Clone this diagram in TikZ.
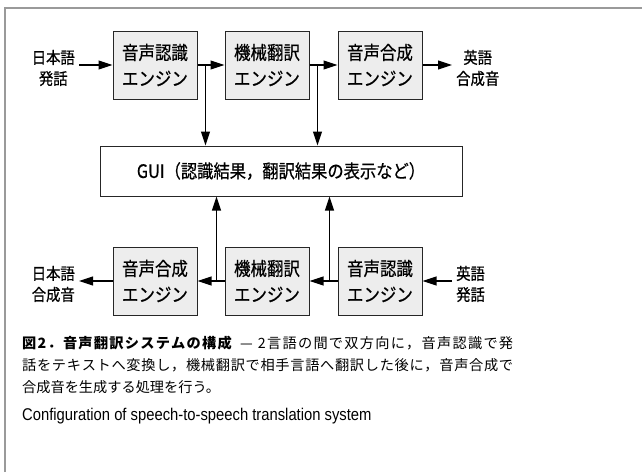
\documentclass[tikz,border=0pt]{standalone}
\usepackage{fontspec}
\setmainfont{Noto Sans CJK JP}[FakeStretch=0.88]
\newfontfamily\lblfont{Noto Sans CJK JP}[FakeStretch=0.88,FakeBold=0.6]
\newfontfamily\capfont{Noto Sans CJK JP}
\newfontfamily\enfont{Liberation Sans}[FakeStretch=0.87]
\makeatletter
\def\spreadtxt#1{\spreadtxt@#1\spreadtxt@end\unskip}
\def\spreadtxt@#1{\ifx#1\spreadtxt@end\else#1\hskip0pt plus 1fil\relax\expandafter\spreadtxt@\fi}
\makeatother
\usetikzlibrary{arrows.meta}
\definecolor{boxfill}{HTML}{EDEDED}
\definecolor{framegray}{HTML}{9A9A9A}
\begin{document}
\begin{tikzpicture}[x=1pt,y=-1pt,
  eng/.style={draw=black!85,fill=boxfill,line width=1pt,minimum width=84pt,minimum height=68pt,inner sep=0pt,align=center,font=\lblfont\fontsize{18.7}{26}\selectfont},
  gui/.style={draw=black!85,fill=white,line width=1pt,minimum width=362pt,minimum height=50pt,inner sep=0pt,font=\lblfont\fontsize{18.5}{20}\selectfont},
  lbl/.style={align=center,inner xsep=4pt,inner ysep=0pt,font=\lblfont\fontsize{16.3}{21}\selectfont},
  arr/.style={line width=1.1pt,-{Triangle[length=14pt,width=9pt]}},
  captxt/.style={anchor=west,inner sep=0pt,font=\capfont\fontsize{14.2}{22}\selectfont}
]
\useasboundingbox (0,0) rectangle (642,472);
\draw[framegray,line width=1.3pt] (5,472) -- (5,8) -- (642,8);

% top row
\node[eng] (t1) at (155,65) {音声認識\\エンジン};
\node[eng] (t2) at (267,65) {機械翻訳\\エンジン};
\node[eng] (t3) at (380,65) {音声合成\\エンジン};
\node[lbl,anchor=east] (inJ) at (79,68) {日本語\\発話};
\node[lbl,anchor=west] (outE) at (452,68) {英語\\合成音};

% GUI
\node[gui] (g) at (281,171) {GUI（認識結果，翻訳結果の表示など）};

% bottom row
\node[eng] (b1) at (155,281) {音声合成\\エンジン};
\node[eng] (b2) at (267,281) {機械翻訳\\エンジン};
\node[eng] (b3) at (380,281) {音声認識\\エンジン};
\node[lbl,anchor=east] (outJ) at (79,284) {日本語\\合成音};
\node[lbl,anchor=west] (inE) at (452,284) {英語\\発話};

% top connectors
\draw[arr] (inJ.east |- t1.west) -- (t1.west);
\draw[arr] (t1.east) -- (t2.west);
\draw[arr] (t2.east) -- (t3.west);
\draw[arr] (t3.east) -- (outE.west |- t3.east);
\path (t1.east) ++(8,0) coordinate (c1);
\path (t2.east) ++(8,0) coordinate (c2);
\draw[arr] (c1) -- (c1 |- g.north);
\draw[arr] (c2) -- (c2 |- g.north);

% bottom connectors
\draw[arr] (inE.west |- b3.east) -- (b3.east);
\draw[arr] (b3.west) -- (b2.east);
\draw[arr] (b2.west) -- (b1.east);
\draw[arr] (b1.west) -- (outJ.east |- b1.west);
\path (b2.west) ++(-8,0) coordinate (c3);
\path (b3.west) ++(-8,0) coordinate (c4);
\draw[arr] (c3) -- (c3 |- g.south);
\draw[arr] (c4) -- (c4 |- g.south);

% caption
\node[captxt] (cap1) at (22,343) {\makebox[491pt][s]{{\bfseries\spreadtxt{図2．音声翻訳システムの構成}}\hskip 7pt plus 1fil—\hskip 4pt plus 1fil\spreadtxt{2言語の間で双方向に，音声認識で発}}};
\node[captxt] (cap2) at (22,365) {\makebox[491pt][s]{\spreadtxt{話をテキストへ変換し，機械翻訳で相手言語へ翻訳した後に，音声合成で}}};
\node[captxt] (cap3) at (22,387) {合成音を生成する処理を行う。};
\node[captxt,font=\enfont\fontsize{17}{20}\selectfont] (capE) at (22,416) {Configuration of speech-to-speech translation system};
\end{tikzpicture}
\end{document}
